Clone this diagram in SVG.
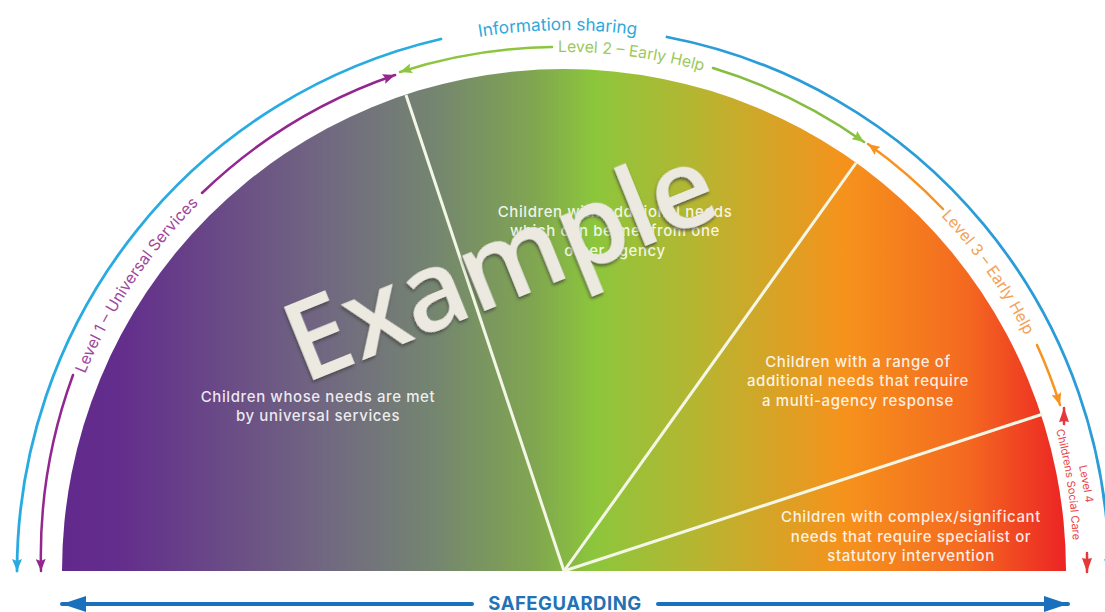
<svg xmlns="http://www.w3.org/2000/svg" width="1105" height="612" viewBox="0 0 1105 612">
<style>
text{font-family:"Inter","Roboto","Liberation Sans",sans-serif}
.body{fill:#fff;fill-opacity:.88;font-size:15px;font-weight:500;text-anchor:middle;letter-spacing:.6px}
.arc{fill:none;stroke-linecap:round}
.div{stroke:#f4f7e6;stroke-width:3;fill:none}
.lab{font-size:15.8px}
</style>
<defs>
<linearGradient id="sweep" gradientUnits="userSpaceOnUse" x1="62" y1="0" x2="1066" y2="0">
<stop offset="0" stop-color="#61298c"/><stop offset=".06" stop-color="#632e8c"/><stop offset=".27" stop-color="#716a80"/><stop offset=".37" stop-color="#748570"/><stop offset=".47" stop-color="#80a650"/><stop offset=".53" stop-color="#8cc63c"/><stop offset=".64" stop-color="#b9b430"/><stop offset=".78" stop-color="#f6921c"/><stop offset=".9" stop-color="#f46a20"/><stop offset="1" stop-color="#ec2424"/>
</linearGradient>
<marker id="mBlue" viewBox="0 0 12 10" refX="12" refY="5" markerUnits="userSpaceOnUse" markerWidth="12" markerHeight="10" orient="auto"><path d="M0 0L12 5L0 10L2 5Z" fill="#29abe2"/></marker>
<marker id="mBlue2" viewBox="0 0 12 10" refX="12" refY="5" markerUnits="userSpaceOnUse" markerWidth="12" markerHeight="10" orient="auto"><path d="M0 0L12 5L0 10L2 5Z" fill="#2a9dd8"/></marker>
<marker id="mPurple" viewBox="0 0 12 10" refX="12" refY="5" markerUnits="userSpaceOnUse" markerWidth="12" markerHeight="10" orient="auto"><path d="M0 0L12 5L0 10L2 5Z" fill="#93278f"/></marker>
<marker id="mGreen" viewBox="0 0 12 10" refX="12" refY="5" markerUnits="userSpaceOnUse" markerWidth="12" markerHeight="10" orient="auto"><path d="M0 0L12 5L0 10L2 5Z" fill="#8cc63f"/></marker>
<marker id="mOrange" viewBox="0 0 12 10" refX="12" refY="5" markerUnits="userSpaceOnUse" markerWidth="12" markerHeight="10" orient="auto"><path d="M0 0L12 5L0 10L2 5Z" fill="#f7931e"/></marker>
<marker id="mRed" viewBox="0 0 14 10" refX="14" refY="5" markerUnits="userSpaceOnUse" markerWidth="14" markerHeight="10" orient="auto"><path d="M0 0L14 5L0 10L1 5Z" fill="#e5383b"/></marker>
<marker id="mSafe" viewBox="0 0 24 16" refX="24" refY="8" markerUnits="userSpaceOnUse" markerWidth="24" markerHeight="16" orient="auto"><path d="M0 0L24 8L0 16Z" fill="#1b70bd"/></marker>
<path id="pInfo" d="M479 37A541 541 0 0 1 1000 250"/>
<path id="pL1" d="M85 374A518 518 0 0 1 564 53"/>
<path id="pL2" d="M558 52A519 519 0 0 1 900 176"/>
<path id="pL3" d="M941 216A518 518 0 0 1 1082 571"/>
<path id="pL4a" d="M1079 466A527 527 0 0 1 1091 571"/>
<path id="pL4b" d="M1056 430A509 509 0 0 1 1073 571"/>
<filter id="emboss" x="-10%" y="-20%" width="120%" height="140%"><feDropShadow dx="-1.5" dy="2" stdDeviation="1.6" flood-color="#3c3c3c" flood-opacity=".75"/></filter>
</defs>

<g id="semicircle"><path d="M62 571A502 502 0 0 1 1066 571Z" fill="url(#sweep)"/></g>

<g id="connectors">
<path class="div" d="M564 571L406 95"/>
<path class="div" d="M564 571L856 163"/>
<path class="div" d="M564 571L1043 414"/>
<path class="arc" d="M441 39A547 547 0 0 0 17 571" stroke="#29abe2" stroke-width="2.8" marker-end="url(#mBlue)"/>
<path class="arc" d="M667 37A545 545 0 0 1 1109 571" stroke="#2a9dd8" stroke-width="2.8" marker-end="url(#mBlue2)"/>
<path class="arc" d="M73 375A528 528 0 0 0 41 571" stroke="#93278f" stroke-width="2.5" marker-end="url(#mPurple)"/>
<path class="arc" d="M202 193A523 523 0 0 1 395 75" stroke="#93278f" stroke-width="2.5" marker-end="url(#mPurple)"/>
<path class="arc" d="M552 47A524 524 0 0 0 400 72" stroke="#8cc63f" stroke-width="2.5" marker-end="url(#mGreen)"/>
<path class="arc" d="M713 68A525 525 0 0 1 864 142" stroke="#84bd40" stroke-width="2.5" marker-end="url(#mGreen)"/>
<path class="arc" d="M943 209A523 523 0 0 0 868 144" stroke="#f7931e" stroke-width="2.5" marker-end="url(#mOrange)"/>
<path class="arc" d="M1037 345A523 523 0 0 1 1060 405" stroke="#f7931e" stroke-width="2.5" marker-end="url(#mOrange)"/>
<path class="arc" d="M1064 424L1064 408" stroke="#e5383b" stroke-width="2.5" marker-end="url(#mRed)"/>
<path class="arc" d="M1087 553L1087 572" stroke="#e5383b" stroke-width="2.5" marker-end="url(#mRed)"/>
<path class="arc" d="M472 604L62 604" stroke="#1b70bd" stroke-width="4" stroke-linecap="butt" marker-end="url(#mSafe)"/>
<path class="arc" d="M658 604L1068 604" stroke="#1b70bd" stroke-width="4" stroke-linecap="butt" marker-end="url(#mSafe)"/>
</g>

<g id="label-info"><text fill="#2fa8dc" style="font-size:17.2px"><textPath href="#pInfo">Information sharing</textPath></text></g>
<g id="label-level1"><text class="lab" fill="#a2479d"><textPath href="#pL1">Level 1 – Universal Services</textPath></text></g>
<g id="label-level2"><text class="lab" fill="#9cc95c"><textPath href="#pL2">Level 2 – Early Help</textPath></text></g>
<g id="label-level3"><text class="lab" fill="#f3a257"><textPath href="#pL3">Level 3 – Early Help</textPath></text></g>
<g id="label-level4"><text fill="#e5484a" font-size="11"><textPath href="#pL4a">Level 4</textPath></text><text fill="#e5484a" font-size="11"><textPath href="#pL4b">Childrens Social Care</textPath></text></g>

<g id="node-level1"><text class="body" x="318" y="402">Children whose needs are met</text><text class="body" x="318" y="421">by universal services</text></g>
<g id="node-level2"><text class="body" x="615" y="217">Children with additional needs</text><text class="body" x="615" y="236">which can be met from one</text><text class="body" x="615" y="256">other agency</text></g>
<g id="node-level3"><text class="body" x="858" y="367">Children with a range of</text><text class="body" x="858" y="386">additional needs that require</text><text class="body" x="858" y="406">a multi-agency response</text></g>
<g id="node-level4"><text class="body" x="911" y="522">Children with complex/significant</text><text class="body" x="911" y="542">needs that require specialist or</text><text class="body" x="911" y="561">statutory intervention</text></g>
<g id="node-safeguarding"><text x="565" y="610" fill="#2272b5" font-size="18.5" font-weight="700" text-anchor="middle" letter-spacing=".5">SAFEGUARDING</text></g>

<g id="watermark"><text x="0" y="0" transform="translate(304 384) rotate(-22)" fill="#ece9e0" font-size="110" font-weight="600" style="font-family:'Open Sans','Liberation Sans',sans-serif" filter="url(#emboss)">Example</text></g>
</svg>
